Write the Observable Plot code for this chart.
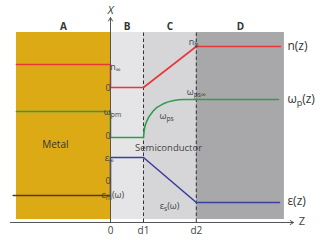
<!DOCTYPE html>
<html><head><meta charset="utf-8">
<script src="https://cdn.jsdelivr.net/npm/d3@7"></script>
<script src="https://cdn.jsdelivr.net/npm/@observablehq/plot@0.6"></script>
<style>body{margin:0;background:#fff} svg{display:block}</style>
</head><body><div id="chart"></div>
<script>
// Regions (z in units of d1; d2 = 2.6)
const regionNames = ["A", "B", "C", "D"];
const regionStart = [-2.85, 0, 1, 2.6];
const regionEnd = [0, 1, 2.6, 5.27];
const regionBottom = 3;
const regionTop = 190;
const regionColors = ["#dcaa15", "#e5e5e7", "#d6d6d8", "#a8a8aa"];

// n(z)
const nBase = 135;
const nZ = [-2.85, 0, 0, 1, 2.6, 5.15];
const nV = [23, 23, 0, 0, 41, 41];
// omega_p(z)
const wBase = 85;
const wStepZ = [-2.85, 0, 0, 1];
const wStepV = [26, 26, 0, 0];
const wCurveZ = [1, 1.03, 1.11, 1.31, 1.62, 1.92, 2.22, 2.6, 5.09];
const wCurveV = [0, 9, 17, 27, 34, 37, 38, 38, 38];
// epsilon(z)
const eBase = 41;
const eMetalZ = [-2.95, 0];
const eMetalV = [-14, -14];
const eZ = [0, 0, 1, 2.6, 5.12];
const eV = [-14, 24, 24, -21, -21];

const interfaces = [1, 2.6];
const axisZ = {x1: -3.03, y1: 0, x2: 5.55, y2: 0};
const axisX = {x1: 0, y1: 0, x2: 0, y2: 205};

// labels
const tickLabels = ["0", "d1", "d2"];
const tickZ = [0, 1, 2.6];
const labelText = ["n_{∞}", "0", "n_{b}", "ω_{pm}", "0", "ω_{ps}", "ω_{ps∞}", "ε_{∞}", "0", "ε_{m}(ω)", "ε_{s}(ω)"];
const labelZ = [0.15, -0.07, 2.52, 0.06, -0.07, 1.7, 2.6, -0.04, -0.07, 0.07, 1.79];
const labelV = [155, 134, 180, 110, 86, 106, 130, 64, 41, 27, 16];
const labelAnchor = ["start", "end", "end", "start", "end", "start", "start", "end", "end", "start", "start"];
const curveNames = ["n(z)", "ω_{p}(z)", "ε(z)"];
const curveNameV = [176, 123, 21];
const curveNameZ = 5.36;

const pts = (zs, vs, base) => zs.map((z, i) => ({z, v: vs[i] + base}));
const regions = regionNames.map((name, i) => ({name, z0: regionStart[i], z1: regionEnd[i], color: regionColors[i]}));
const labels = labelText.map((t, i) => ({t, z: labelZ[i], v: labelV[i], a: labelAnchor[i]}));

const ink = "#444";
const chart = Plot.plot({
  width: 320, height: 241, margin: 0,
  x: {domain: [-110 / 33, 210 / 33], axis: null},
  y: {domain: [-19, 222], axis: null},
  style: {fontFamily: "'Open Sans', sans-serif", background: "#fff"},
  marks: [
    Plot.rect(regions, {x1: "z0", x2: "z1", y1: regionBottom, y2: regionTop, fill: "color"}),
    Plot.ruleX(interfaces, {y1: 0, y2: regionTop, stroke: "#333", strokeDasharray: "3.5,2.5", strokeWidth: 1}),
    Plot.line(pts(nZ, nV, nBase), {x: "z", y: "v", stroke: "#e8363b", strokeWidth: 1.6}),
    Plot.line(pts(wStepZ, wStepV, wBase), {x: "z", y: "v", stroke: "#2d9e4b", strokeWidth: 1.6}),
    Plot.line(pts(wCurveZ, wCurveV, wBase), {x: "z", y: "v", stroke: "#2d9e4b", strokeWidth: 1.6, curve: "monotone-x"}),
    Plot.line(pts(eMetalZ, eMetalV, eBase), {x: "z", y: "v", stroke: "#4c3c28", strokeWidth: 1.6}),
    Plot.line(pts(eZ, eV, eBase), {x: "z", y: "v", stroke: "#3b3f9c", strokeWidth: 1.6}),
    Plot.arrow([axisZ, axisX], {x1: "x1", y1: "y1", x2: "x2", y2: "y2", stroke: "#555", strokeWidth: 1, headLength: 6}),
    Plot.text(regions, {x: d => (d.z0 + d.z1) / 2, y: 196, text: "name", fill: "#333", fontSize: 10, fontWeight: "bold"}),
    Plot.text(["X"], {x: 0, y: 212, text: d => d, fill: "#333", fontSize: 11, fontStyle: "italic"}),
    Plot.text(["Z"], {x: 5.8, y: 1, text: d => d, fill: ink, fontSize: 11}),
    Plot.text(tickLabels, {x: (d, i) => tickZ[i], y: -8, text: d => d, fill: ink, fontSize: 10}),
    Plot.text(labels, {x: "z", y: "v", text: "t", textAnchor: "a", fill: ink, fontSize: 9}),
    Plot.text(curveNames, {x: curveNameZ, y: (d, i) => curveNameV[i], text: d => d, textAnchor: "start", fill: "#333", fontSize: 12}),
    Plot.text(["Metal"], {x: -1.67, y: 78, text: d => d, fill: "#333", fontSize: 10}),
    Plot.text(["Semiconductor"], {x: 1.76, y: 75, text: d => d, fill: ink, fontSize: 9.5})
  ]
});

// Turn "a_{b}c" into real subscripts
chart.querySelectorAll("text").forEach(t => {
  const s = t.textContent;
  const m = s.match(/^(.*?)_\{(.*?)\}(.*)$/);
  if (!m) return;
  t.textContent = "";
  const ns = "http://www.w3.org/2000/svg";
  const a = document.createElementNS(ns, "tspan"); a.textContent = m[1];
  const b = document.createElementNS(ns, "tspan"); b.textContent = m[2];
  b.setAttribute("dy", "0.3em"); b.setAttribute("font-size", "0.75em");
  t.appendChild(a); t.appendChild(b);
  if (m[3]) {
    const c = document.createElementNS(ns, "tspan"); c.textContent = m[3];
    c.setAttribute("dy", "-0.225em");
    t.appendChild(c);
  }
});
document.getElementById("chart").appendChild(chart);
</script>
</body></html>
